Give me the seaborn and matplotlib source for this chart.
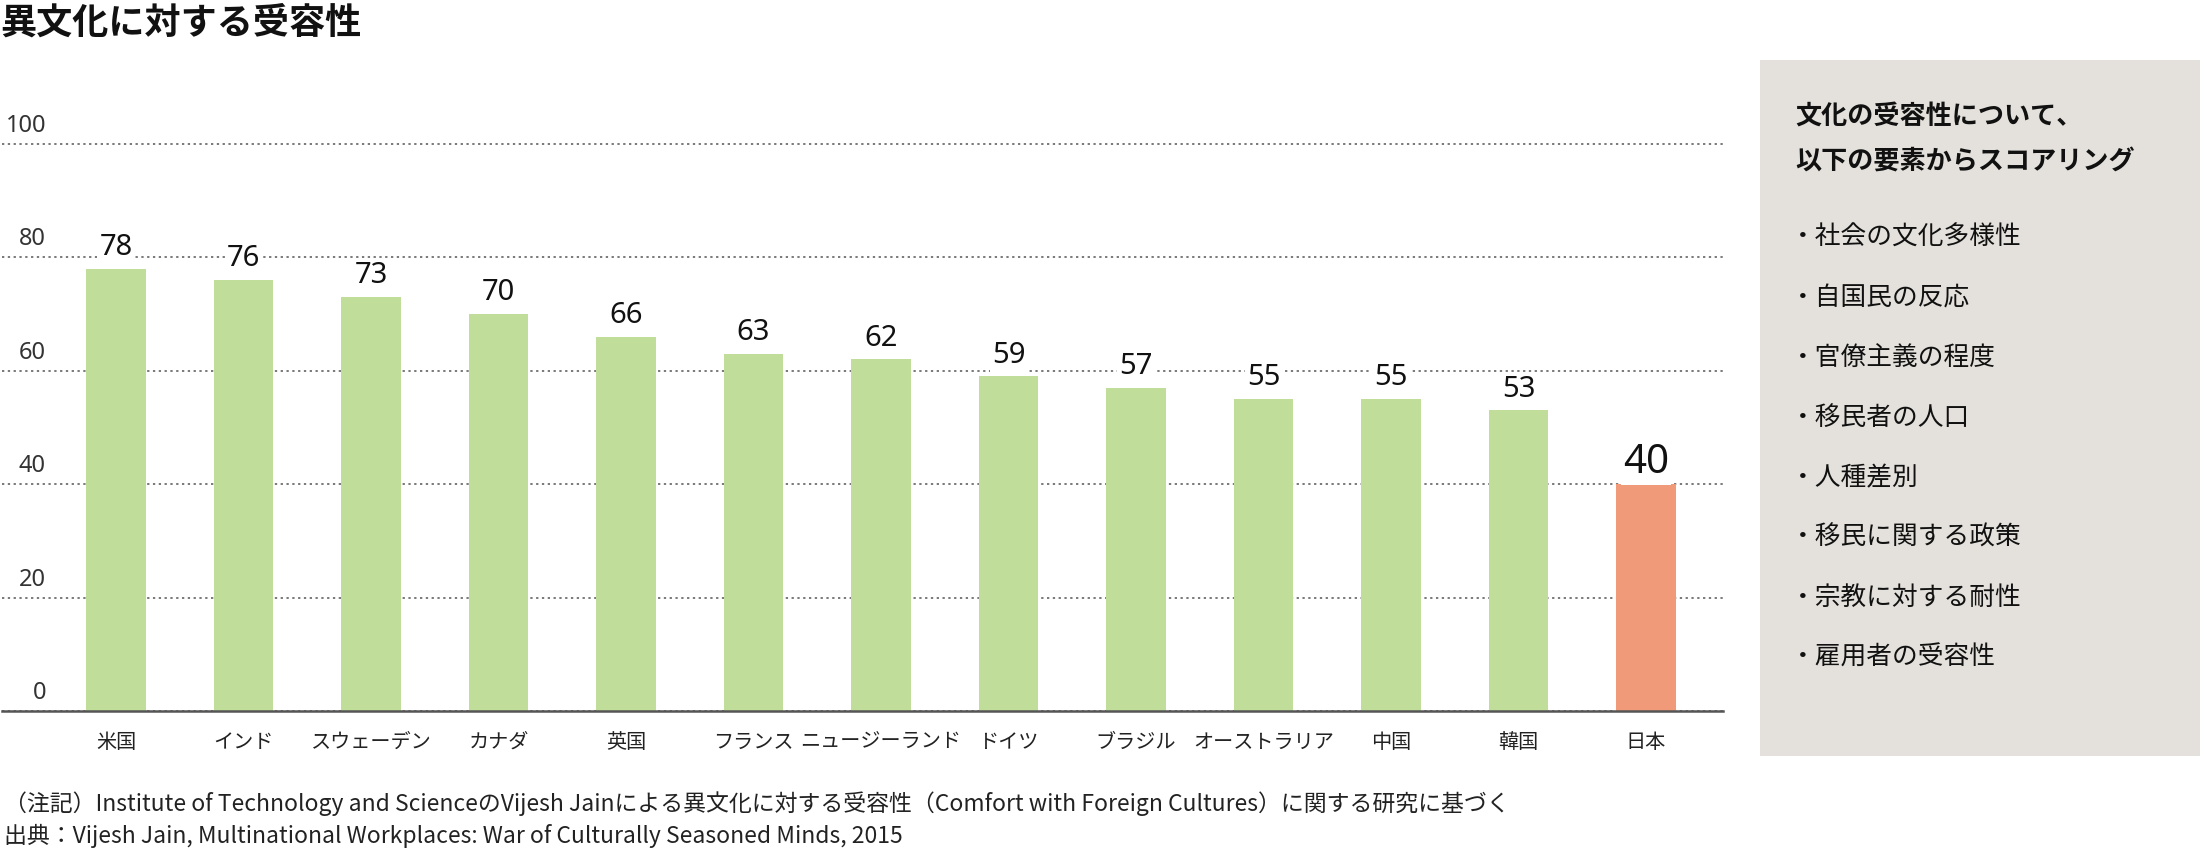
import matplotlib
matplotlib.use("Agg")
import matplotlib.pyplot as plt
import matplotlib.transforms as mtransforms
from matplotlib.patches import Rectangle
import seaborn as sns

# ---- data ----
countries = ["米国", "インド", "スウェーデン", "カナダ", "英国", "フランス", "ニュージーランド",
             "ドイツ", "ブラジル", "オーストラリア", "中国", "韓国", "日本"]
scores = [78, 76, 73, 70, 66, 63, 62, 59, 57, 55, 55, 53, 40]
highlight = "日本"
ytick_vals = [0, 20, 40, 60, 80, 100]
ytick_labels = ["0", "20", "40", "60", "80", "100"]

title = "異文化に対する受容性"
panel_header = ["文化の受容性について、", "以下の要素からスコアリング"]
panel_items = ["・社会の文化多様性", "・自国民の反応", "・官僚主義の程度", "・移民者の人口",
               "・人種差別", "・移民に関する政策", "・宗教に対する耐性", "・雇用者の受容性"]
note_line = "（注記）Institute of Technology and ScienceのVijesh Jainによる異文化に対する受容性（Comfort with Foreign Cultures）に関する研究に基づく"
source_line = "出典：Vijesh Jain, Multinational Workplaces: War of Culturally Seasoned Minds, 2015"

GREEN = "#c1dd9a"
SALMON = "#f19a7a"
PANEL = "#e4e1dc"
palette = {c: (SALMON if c == highlight else GREEN) for c in countries}

sns.set_theme(style="white")
plt.rcParams["font.family"] = ["Noto Sans CJK JP", "DejaVu Sans"]

W, H = 2200, 860
fig = plt.figure(figsize=(W / 100, H / 100), dpi=100)
fig.patch.set_facecolor("white")

ax_left, ax_right = 2, 1723
ax_bottom = 711
ymax = 105
px_per_unit = (711 - 144) / 100
ax_top = ax_bottom - ymax * px_per_unit
ax = fig.add_axes([ax_left / W, (H - ax_bottom) / H, (ax_right - ax_left) / W, (ax_bottom - ax_top) / H])

sns.barplot(x=countries, y=scores, hue=countries, palette=palette, width=0.465,
            saturation=1, legend=False, linewidth=0, ax=ax)

ax.set_xlim(-0.894, 12.604)
ax.set_ylim(0, ymax)
ax.set_xlabel("")
ax.set_ylabel("")
ax.set_facecolor("white")

# grid
ax.set_yticks(ytick_vals)
ax.set_axisbelow(True)
ax.yaxis.grid(True, color="#555555", linewidth=1.1, linestyle=(0, (1.5, 2.3)))
ax.xaxis.grid(False)
ax.tick_params(axis="y", left=False, labelleft=False)
ax.tick_params(axis="x", bottom=False, pad=9, labelsize=14.5, labelcolor="#222222")
for s in ["top", "right", "left"]:
    ax.spines[s].set_visible(False)
ax.spines["bottom"].set_color("#555555")
ax.spines["bottom"].set_linewidth(1.8)

# y labels sitting above the gridlines
ylab_trans = mtransforms.blended_transform_factory(ax.transAxes, ax.transData) + \
    mtransforms.ScaledTranslation(0, 12 / 100, fig.dpi_scale_trans)
for v, lab in zip(ytick_vals, ytick_labels):
    ax.text((46 - ax_left) / (ax_right - ax_left), v, lab, transform=ylab_trans,
            ha="right", va="baseline", fontsize=17, color="#333333",
            family=["Noto Sans", "DejaVu Sans"], fontweight="light")

# value labels
for cont, c in zip(ax.containers, countries):
    if c == highlight:
        texts = ax.bar_label(cont, labels=[str(scores[countries.index(c)])], padding=1,
                             fontsize=29, color="#111111", family=["Noto Sans", "DejaVu Sans"])
    else:
        texts = ax.bar_label(cont, labels=[str(scores[countries.index(c)])], padding=5,
                             fontsize=21, color="#111111", family=["Noto Sans", "DejaVu Sans"])
    for t in texts:
        t.set_bbox(dict(facecolor="white", edgecolor="none", pad=1.5))

# title
fig.text(0 / W, 1 - 5 / H, title, ha="left", va="top", fontsize=26, fontweight="bold", color="#111111")

# side panel
fig.patches.append(Rectangle((1760 / W, (H - 756) / H), 440 / W, 696 / H,
                             transform=fig.transFigure, facecolor=PANEL, edgecolor="none", zorder=0))
for i, line in enumerate(panel_header):
    fig.text(1795 / W, 1 - (116 + 46 * i) / H, line, ha="left", va="center",
             fontsize=18.8, fontweight="bold", color="#111111")
for i, item in enumerate(panel_items):
    fig.text(1790 / W, 1 - (238 + 60 * i) / H, item, ha="left", va="center",
             fontsize=18.5, color="#111111")

# footnotes
fig.text(4 / W, 1 - 804 / H, note_line, ha="left", va="center", fontsize=16.5, color="#222222")
fig.text(4 / W, 1 - 836 / H, source_line, ha="left", va="center", fontsize=16.5, color="#222222")

fig.savefig("out.png", dpi=100, facecolor="white")
